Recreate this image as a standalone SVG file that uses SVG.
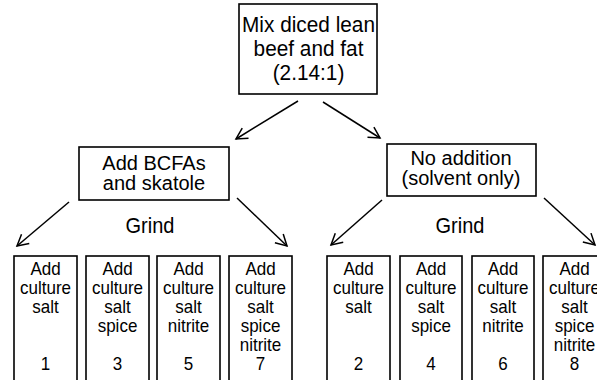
<svg xmlns="http://www.w3.org/2000/svg" width="597" height="380" viewBox="0 0 597 380">
<style>
.box{fill:#fff;stroke:#000;stroke-width:1.6}
.t{font-family:"Liberation Sans",Arial,sans-serif;font-size:20px;fill:#000;text-anchor:middle}
.b{font-size:20.8px}
.s{font-family:"Liberation Sans",Arial,sans-serif;font-size:17px;fill:#000;text-anchor:middle}
.c{stroke:#000;stroke-width:1.5;fill:none;marker-end:url(#ah)}
</style>
<defs>
<marker id="ah" markerUnits="userSpaceOnUse" markerWidth="16" markerHeight="16" viewBox="-12 -8 14 16" refX="0" refY="0" orient="auto">
<path d="M-11,-6 L0,0 L-11,6" fill="none" stroke="#000" stroke-width="1.5"/>
</marker>
</defs>
<rect width="597" height="380" fill="#fff"/>
<g id="connectors">
<line class="c" x1="298" y1="101" x2="236" y2="139"/>
<line class="c" x1="323" y1="102" x2="380" y2="138"/>
<line class="c" x1="69" y1="202" x2="17" y2="246"/>
<line class="c" x1="237" y1="198" x2="287" y2="246"/>
<line class="c" x1="382" y1="200" x2="331" y2="245"/>
<line class="c" x1="544" y1="198" x2="595" y2="245"/>
</g>
<g id="n-mix">
<rect class="box" x="239" y="4" width="138" height="90"/>
<text class="t b" transform="translate(308.5,32) scale(1,1.1)">Mix diced lean</text>
<text class="t b" transform="translate(308.5,56) scale(1,1.1)">beef and fat</text>
<text class="t b" transform="translate(308.5,80) scale(1,1.1)">(2.14:1)</text>
</g>
<g id="n-bcfa">
<rect class="box" x="79" y="147" width="150" height="53"/>
<text class="t" x="154" y="169.5">Add BCFAs</text>
<text class="t" x="154" y="190">and skatole</text>
</g>
<g id="n-none">
<rect class="box" x="387" y="144" width="149" height="52"/>
<text class="t" x="461" y="165">No addition</text>
<text class="t" x="461" y="185">(solvent only)</text>
</g>
<g id="grind-left"><text class="t" transform="translate(150,233) scale(1,1.1)">Grind</text></g>
<g id="grind-right"><text class="t" transform="translate(460,233) scale(1,1.1)">Grind</text></g>
<g id="n1">
<rect class="box" x="14" y="256" width="63" height="140"/>
<text class="s" transform="translate(45.5,275) scale(1,1.1)">Add</text><text class="s" transform="translate(45.5,294) scale(1,1.1)">culture</text><text class="s" transform="translate(45.5,313) scale(1,1.1)">salt</text><text class="s" transform="translate(45.5,370) scale(1,1.1)">1</text>
</g>
<g id="n3">
<rect class="box" x="86" y="256" width="63" height="140"/>
<text class="s" transform="translate(117.5,275) scale(1,1.1)">Add</text><text class="s" transform="translate(117.5,294) scale(1,1.1)">culture</text><text class="s" transform="translate(117.5,313) scale(1,1.1)">salt</text><text class="s" transform="translate(117.5,332) scale(1,1.1)">spice</text><text class="s" transform="translate(117.5,370) scale(1,1.1)">3</text>
</g>
<g id="n5">
<rect class="box" x="157" y="256" width="63" height="140"/>
<text class="s" transform="translate(188.5,275) scale(1,1.1)">Add</text><text class="s" transform="translate(188.5,294) scale(1,1.1)">culture</text><text class="s" transform="translate(188.5,313) scale(1,1.1)">salt</text><text class="s" transform="translate(188.5,332) scale(1,1.1)">nitrite</text><text class="s" transform="translate(188.5,370) scale(1,1.1)">5</text>
</g>
<g id="n7">
<rect class="box" x="229" y="256" width="63" height="140"/>
<text class="s" transform="translate(260.5,275) scale(1,1.1)">Add</text><text class="s" transform="translate(260.5,294) scale(1,1.1)">culture</text><text class="s" transform="translate(260.5,313) scale(1,1.1)">salt</text><text class="s" transform="translate(260.5,332) scale(1,1.1)">spice</text><text class="s" transform="translate(260.5,351) scale(1,1.1)">nitrite</text><text class="s" transform="translate(260.5,370) scale(1,1.1)">7</text>
</g>
<g id="n2">
<rect class="box" x="327" y="256" width="63" height="140"/>
<text class="s" transform="translate(358.5,275) scale(1,1.1)">Add</text><text class="s" transform="translate(358.5,294) scale(1,1.1)">culture</text><text class="s" transform="translate(358.5,313) scale(1,1.1)">salt</text><text class="s" transform="translate(358.5,370) scale(1,1.1)">2</text>
</g>
<g id="n4">
<rect class="box" x="400" y="256" width="62" height="140"/>
<text class="s" transform="translate(431,275) scale(1,1.1)">Add</text><text class="s" transform="translate(431,294) scale(1,1.1)">culture</text><text class="s" transform="translate(431,313) scale(1,1.1)">salt</text><text class="s" transform="translate(431,332) scale(1,1.1)">spice</text><text class="s" transform="translate(431,370) scale(1,1.1)">4</text>
</g>
<g id="n6">
<rect class="box" x="472" y="256" width="62" height="140"/>
<text class="s" transform="translate(503,275) scale(1,1.1)">Add</text><text class="s" transform="translate(503,294) scale(1,1.1)">culture</text><text class="s" transform="translate(503,313) scale(1,1.1)">salt</text><text class="s" transform="translate(503,332) scale(1,1.1)">nitrite</text><text class="s" transform="translate(503,370) scale(1,1.1)">6</text>
</g>
<g id="n8">
<rect class="box" x="543" y="256" width="63" height="140"/>
<text class="s" transform="translate(574.5,275) scale(1,1.1)">Add</text><text class="s" transform="translate(574.5,294) scale(1,1.1)">culture</text><text class="s" transform="translate(574.5,313) scale(1,1.1)">salt</text><text class="s" transform="translate(574.5,332) scale(1,1.1)">spice</text><text class="s" transform="translate(574.5,351) scale(1,1.1)">nitrite</text><text class="s" transform="translate(574.5,370) scale(1,1.1)">8</text>
</g>
</svg>
